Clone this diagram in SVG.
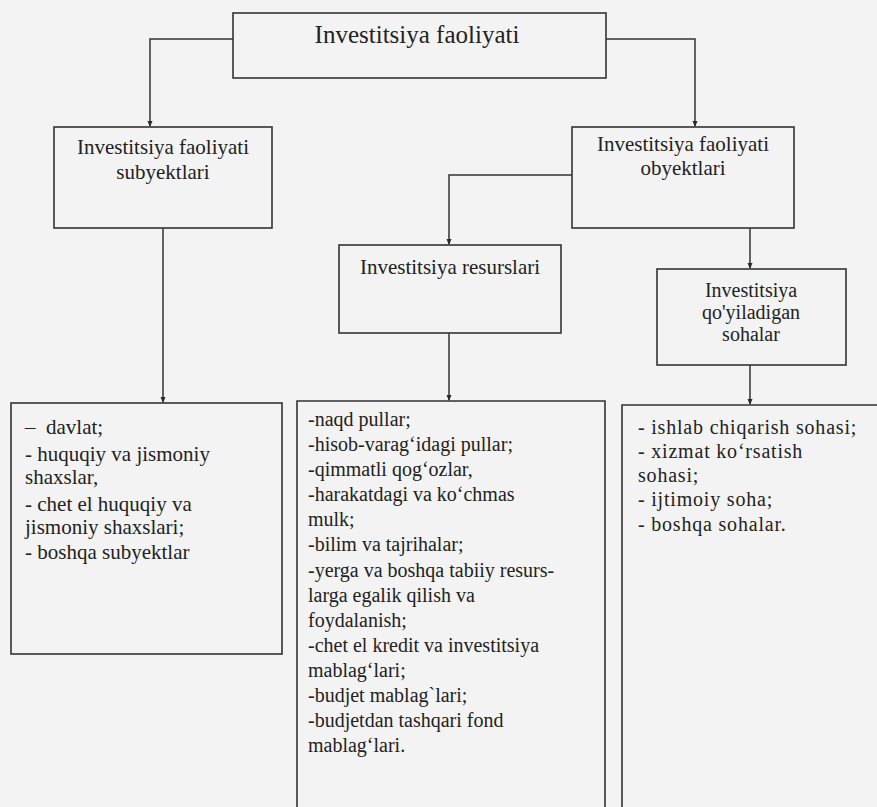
<svg xmlns="http://www.w3.org/2000/svg" width="877" height="807" viewBox="0 0 877 807">
<defs>
<marker id="ah" markerWidth="6" markerHeight="6" refX="5" refY="3" orient="auto" markerUnits="userSpaceOnUse">
<path d="M0,0.5 L6,3 L0,5.5 Z" fill="#2a2a2a"/>
</marker>
<style>
.bg{fill:#f3f3f3}
.box{fill:none;stroke:#333;stroke-width:1.6}
.con{fill:none;stroke:#333;stroke-width:1.5}
text{font-family:"Liberation Serif","Times New Roman",serif;fill:#222}
.t{font-size:25px;text-anchor:middle}
.h{font-size:21px;text-anchor:middle}
.h2{font-size:20px;text-anchor:middle}
.l{font-size:20px;white-space:pre}
.l6{font-size:21px;white-space:pre}
.r{font-size:20px;letter-spacing:0.8px;white-space:pre}
</style>
</defs>
<rect class="bg" x="0" y="0" width="877" height="807"/>
<g id="connectors">
<path class="con" d="M233,39 H150 V126" marker-end="url(#ah)"/>
<path class="con" d="M606,39 H695 V126" marker-end="url(#ah)"/>
<path class="con" d="M163,228 V402" marker-end="url(#ah)"/>
<path class="con" d="M572,175 H449 V244" marker-end="url(#ah)"/>
<path class="con" d="M750,228 V268" marker-end="url(#ah)"/>
<path class="con" d="M449,333 V400" marker-end="url(#ah)"/>
<path class="con" d="M750,365 V404" marker-end="url(#ah)"/>
</g>
<g id="n-root">
<rect class="box" x="233" y="13" width="373" height="65"/>
<text class="t" x="417" y="43">Investitsiya faoliyati</text>
</g>
<g id="n-subyekt">
<rect class="box" x="54" y="127" width="218" height="101"/>
<text class="h" x="163" y="154">Investitsiya faoliyati</text>
<text class="h" x="163" y="179">subyektlari</text>
</g>
<g id="n-obyekt">
<rect class="box" x="572" y="127" width="222" height="101"/>
<text class="h" x="683" y="151">Investitsiya faoliyati</text>
<text class="h" x="683" y="175">obyektlari</text>
</g>
<g id="n-resurs">
<rect class="box" x="339" y="245" width="222" height="88"/>
<text class="h" x="450" y="274">Investitsiya resurslari</text>
</g>
<g id="n-sohalar">
<rect class="box" x="657" y="269" width="189" height="96"/>
<text class="h2" x="751" y="297">Investitsiya</text>
<text class="h2" x="751" y="319">qo'yiladigan</text>
<text class="h2" x="751" y="341">sohalar</text>
</g>
<g id="n-list-subyekt">
<rect class="box" x="11" y="403" width="271" height="251"/>
<text class="l6" x="25" y="434">–  davlat;</text>
<text class="l6" x="25" y="461">- huquqiy va jismoniy</text>
<text class="l6" x="25" y="484">shaxslar,</text>
<text class="l6" x="25" y="511">- chet el huquqiy va</text>
<text class="l6" x="25" y="534">jismoniy shaxslari;</text>
<text class="l6" x="25" y="559">- boshqa subyektlar</text>
</g>
<g id="n-list-resurs">
<path class="box" d="M297,820 V401 H605 V820"/>
<text class="l" x="308" y="426">-naqd pullar;</text>
<text class="l" x="308" y="451">-hisob-varag‘idagi pullar;</text>
<text class="l" x="308" y="476">-qimmatli qog‘ozlar,</text>
<text class="l" x="308" y="501">-harakatdagi va ko‘chmas</text>
<text class="l" x="308" y="526">mulk;</text>
<text class="l" x="308" y="551">-bilim va tajrihalar;</text>
<text class="l" x="308" y="577">-yerga va boshqa tabiiy resurs-</text>
<text class="l" x="308" y="602">larga egalik qilish va</text>
<text class="l" x="308" y="627">foydalanish;</text>
<text class="l" x="308" y="652">-chet el kredit va investitsiya</text>
<text class="l" x="308" y="677">mablag‘lari;</text>
<text class="l" x="308" y="702">-budjet mablag`lari;</text>
<text class="l" x="308" y="727">-budjetdan tashqari fond</text>
<text class="l" x="308" y="752">mablag‘lari.</text>
</g>
<g id="n-list-sohalar">
<path class="box" d="M622,820 V405 H890"/>
<text class="r" x="638" y="434">- ishlab chiqarish sohasi;</text>
<text class="r" x="638" y="458">- xizmat ko‘rsatish</text>
<text class="r" x="638" y="482">sohasi;</text>
<text class="r" x="638" y="506">- ijtimoiy soha;</text>
<text class="r" x="638" y="531">- boshqa sohalar.</text>
</g>
</svg>
